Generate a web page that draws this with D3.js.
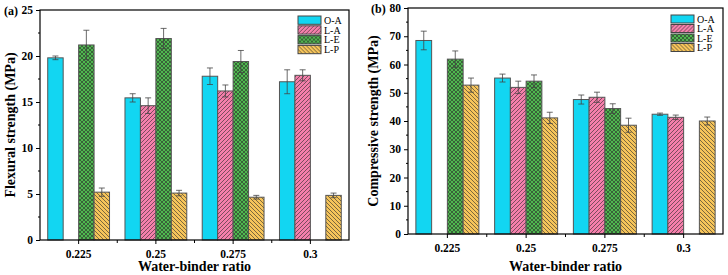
<!DOCTYPE html>
<html>
<head>
<meta charset="utf-8">
<script src="https://cdn.jsdelivr.net/npm/d3@7"></script>
<style>
  body { margin: 0; background: #fff; }
  text { font-family: "Liberation Serif", "DejaVu Serif", serif; }
</style>
</head>
<body>
<svg width="728" height="275"></svg>
<script>
// chart data
const ratios = ['0.225', '0.25', '0.275', '0.3'];
const seriesNames = ['O-A', 'L-A', 'L-E', 'L-P'];

const flexOA = [19.8, 15.45, 17.8, 17.2];
const flexOAErr = [0.2, 0.45, 0.9, 1.3];
const flexLA = [null, 14.6, 16.2, 17.9];
const flexLAErr = [null, 0.85, 0.65, 0.6];
const flexLE = [21.2, 21.9, 19.4, null];
const flexLEErr = [1.6, 1.1, 1.2, null];
const flexLP = [5.2, 5.1, 4.65, 4.85];
const flexLPErr = [0.45, 0.3, 0.2, 0.25];

const compOA = [68.5, 55.2, 47.6, 42.4];
const compOAErr = [3.3, 1.4, 1.6, 0.4];
const compLA = [null, 51.9, 48.4, 41.3];
const compLAErr = [null, 2.2, 1.8, 0.8];
const compLE = [61.9, 54.1, 44.4, null];
const compLEErr = [2.9, 2.2, 1.7, null];
const compLP = [52.7, 41.1, 38.5, 40.0];
const compLPErr = [2.5, 2.0, 2.5, 1.4];

const flexTicks = [0, 5, 10, 15, 20, 25];
const compTicks = [0, 10, 20, 30, 40, 50, 60, 70, 80];

(function() {
  let svg = d3.select('svg');
  let fills = ['#12d6f2', 'url(#hatchLA)', 'url(#hatchLE)', 'url(#hatchLP)'];

  // hatch patterns
  let defs = svg.append('defs');
  function hatch(id, bg, paths) {
    let p = defs.append('pattern')
      .attr('id', id)
      .attr('patternUnits', 'userSpaceOnUse')
      .attr('width', 4)
      .attr('height', 4);
    p.append('rect').attr('width', 4).attr('height', 4).attr('fill', bg);
    p.append('path')
      .attr('d', paths)
      .attr('stroke', '#2a2a2a')
      .attr('stroke-width', 0.6)
      .attr('fill', 'none');
  }
  hatch('hatchLA', '#f57fab', 'M-1,1 l2,-2 M0,4 l4,-4 M3,5 l2,-2');
  hatch('hatchLE', '#4fb84f', 'M-1,1 l2,-2 M0,4 l4,-4 M3,5 l2,-2 M-1,3 l2,2 M0,0 l4,4 M3,-1 l2,2');
  hatch('hatchLP', '#f6c45a', 'M-1,3 l2,2 M0,0 l4,4 M3,-1 l2,2');

  function drawPanel(o) {
    let g = svg.append('g');
    let x = d3.scaleBand()
      .domain(ratios)
      .range([o.left, o.right])
      .paddingInner(0.2)
      .paddingOuter(0.1);
    let xs = d3.scaleBand()
      .domain(seriesNames)
      .range([0, x.bandwidth()]);
    let y = d3.scaleLinear()
      .domain([0, o.max])
      .range([o.bottom, o.top]);

    // bars
    o.values.forEach(function(vals, si) {
      let rows = ratios.map(function(r, i) {
        return { r: r, v: vals[i], e: o.errors[si][i] };
      }).filter(function(d) { return d.v != null; });

      g.append('g').selectAll('rect')
        .data(rows)
        .enter().append('rect')
        .attr('x', function(d) { return x(d.r) + xs(seriesNames[si]); })
        .attr('y', function(d) { return y(d.v); })
        .attr('width', xs.bandwidth())
        .attr('height', function(d) { return y(0) - y(d.v); })
        .attr('fill', fills[si])
        .attr('stroke', '#555')
        .attr('stroke-width', 1);

      let eb = g.append('g')
        .attr('stroke', '#444')
        .attr('stroke-width', 0.8)
        .selectAll('g')
        .data(rows)
        .enter().append('g')
        .attr('transform', function(d) {
          return 'translate(' + (x(d.r) + xs(seriesNames[si]) + xs.bandwidth() / 2) + ',0)';
        });
      eb.append('line')
        .attr('y1', function(d) { return y(d.v - d.e); })
        .attr('y2', function(d) { return y(d.v + d.e); });
      eb.append('line').attr('x1', -3).attr('x2', 3)
        .attr('y1', function(d) { return y(d.v + d.e); })
        .attr('y2', function(d) { return y(d.v + d.e); });
      eb.append('line').attr('x1', -3).attr('x2', 3)
        .attr('y1', function(d) { return y(d.v - d.e); })
        .attr('y2', function(d) { return y(d.v - d.e); });
    });

    // frame
    g.append('rect')
      .attr('x', o.left)
      .attr('y', o.top)
      .attr('width', o.right - o.left)
      .attr('height', o.bottom - o.top)
      .attr('fill', 'none')
      .attr('stroke', '#000')
      .attr('stroke-width', 1.2);

    // y axis
    let yAxis = g.append('g')
      .attr('transform', 'translate(' + o.left + ',0)')
      .call(d3.axisLeft(y).tickValues(o.ticks).tickSize(4).tickPadding(3));
    yAxis.select('.domain').remove();
    yAxis.selectAll('text')
      .attr('font-size', 11.5)
      .attr('font-weight', 'bold')
      .attr('font-family', '"Liberation Serif", serif');
    let minor = o.ticks.slice(1).map(function(t, i) { return (t + o.ticks[i]) / 2; });
    g.append('g').selectAll('line')
      .data(minor)
      .enter().append('line')
      .attr('x1', o.left - 2).attr('x2', o.left)
      .attr('y1', function(d) { return y(d); })
      .attr('y2', function(d) { return y(d); })
      .attr('stroke', '#000');

    // x axis
    let xAxis = g.append('g')
      .attr('transform', 'translate(0,' + o.bottom + ')')
      .call(d3.axisBottom(x).tickSize(4).tickPadding(6));
    xAxis.select('.domain').remove();
    xAxis.selectAll('text')
      .attr('font-size', 11.5)
      .attr('font-weight', 'bold')
      .attr('font-family', '"Liberation Serif", serif');
    let bounds = ratios.slice(1).map(function(r) { return x(r) - x.step() * 0.1; });
    g.append('g').selectAll('line')
      .data(bounds)
      .enter().append('line')
      .attr('x1', function(d) { return d; })
      .attr('x2', function(d) { return d; })
      .attr('y1', o.bottom)
      .attr('y2', o.bottom + 3)
      .attr('stroke', '#000');

    // titles
    g.append('text')
      .attr('x', (o.left + o.right) / 2)
      .attr('y', 271)
      .attr('text-anchor', 'middle')
      .attr('font-size', 14)
      .attr('font-weight', 'bold')
      .text('Water-binder ratio');
    g.append('text')
      .attr('transform', 'translate(' + o.yTitleX + ',' + ((o.top + o.bottom) / 2) + ') rotate(-90)')
      .attr('text-anchor', 'middle')
      .attr('font-size', 14)
      .attr('font-weight', 'bold')
      .text(o.yTitle);
    g.append('text')
      .attr('x', o.tagX)
      .attr('y', o.top + 5)
      .attr('font-size', 12)
      .attr('font-weight', 'bold')
      .text(o.tag);

    // legend
    let lg = g.append('g')
      .selectAll('g')
      .data(seriesNames)
      .enter().append('g')
      .attr('transform', function(d, i) {
        return 'translate(' + o.legX + ',' + (o.legY + i * o.legStep) + ')';
      });
    lg.append('rect')
      .attr('width', 23)
      .attr('height', o.legStep - 1.5)
      .attr('fill', function(d, i) { return fills[i]; })
      .attr('stroke', '#444')
      .attr('stroke-width', 1);
    lg.append('text')
      .attr('x', 26)
      .attr('y', o.legStep / 2 + 2.8)
      .attr('font-size', 10)
      .text(function(d) { return d; });
  }

  drawPanel({
    left: 40, right: 349, top: 10, bottom: 240, max: 25,
    ticks: flexTicks,
    values: [flexOA, flexLA, flexLE, flexLP],
    errors: [flexOAErr, flexLAErr, flexLEErr, flexLPErr],
    yTitle: 'Flexural strength (MPa)', yTitleX: 15,
    tag: '(a)', tagX: 4,
    legX: 298, legY: 16, legStep: 9.8
  });

  drawPanel({
    left: 408, right: 723, top: 8, bottom: 234, max: 80,
    ticks: compTicks,
    values: [compOA, compLA, compLE, compLP],
    errors: [compOAErr, compLAErr, compLEErr, compLPErr],
    yTitle: 'Compressive strength (MPa)', yTitleX: 378,
    tag: '(b)', tagX: 371,
    legX: 671, legY: 15, legStep: 9.5
  });
})();
</script>
</body>
</html>
